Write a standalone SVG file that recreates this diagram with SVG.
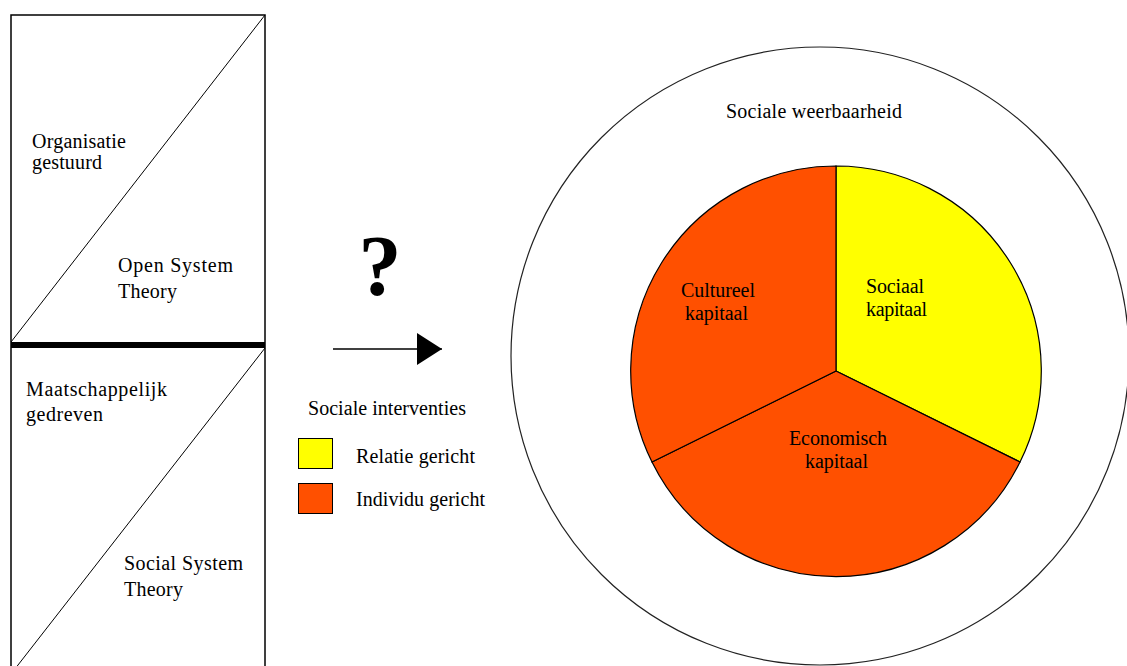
<svg xmlns="http://www.w3.org/2000/svg" width="1127" height="666" viewBox="0 0 1127 666">
<style>
.t{font-family:"Liberation Serif","Times New Roman",serif;font-size:20px;fill:#000}
.thin{stroke:#000;stroke-width:1;fill:none}
.slice{stroke:#000;stroke-width:1.2}
.y{fill:#FFFF00}
.o{fill:#FF5000}
</style>
<defs>
<marker id="ah" markerWidth="25" markerHeight="32" refX="25" refY="16" orient="auto" markerUnits="userSpaceOnUse">
<path d="M0,0 L25,16 L0,32 Z" fill="#000"/>
</marker>
</defs>
<rect width="1127" height="666" fill="#fff"/>

<g id="left-panel">
<rect x="11" y="15" width="254" height="665" fill="#fff" stroke="#000" stroke-width="1.5"/>
<line class="thin" x1="11" y1="342" x2="265" y2="15"/>
<line class="thin" x1="265" y1="348" x2="11" y2="674"/>
<line x1="11" y1="345" x2="265" y2="345" stroke="#000" stroke-width="6"/>
</g>
<g id="organisatie">
<text class="t" x="32" y="148" textLength="94" lengthAdjust="spacing">Organisatie</text>
<text class="t" x="32" y="169" textLength="70" lengthAdjust="spacing">gestuurd</text>
</g>
<g id="open-system">
<text class="t" x="118" y="272" textLength="115" lengthAdjust="spacing">Open System</text>
<text class="t" x="118" y="298" textLength="59" lengthAdjust="spacing">Theory</text>
</g>
<g id="maatschappelijk">
<text class="t" x="26" y="396" textLength="141" lengthAdjust="spacing">Maatschappelijk</text>
<text class="t" x="26" y="421" textLength="77" lengthAdjust="spacing">gedreven</text>
</g>
<g id="social-system">
<text class="t" x="124" y="570" textLength="119" lengthAdjust="spacing">Social System</text>
<text class="t" x="124" y="596" textLength="59" lengthAdjust="spacing">Theory</text>
</g>

<g id="question">
<text x="380" y="295" text-anchor="middle" style="font-family:'Liberation Serif','Times New Roman',serif;font-size:86px;font-weight:bold">?</text>
</g>

<g id="connectors">
<line x1="333" y1="349" x2="442" y2="349" stroke="#000" stroke-width="1.5" marker-end="url(#ah)"/>
</g>

<g id="legend">
<text class="t" x="308" y="415" textLength="158" lengthAdjust="spacing">Sociale interventies</text>
<rect x="298.5" y="438.5" width="34" height="30" class="y" stroke="#000" stroke-width="1"/>
<text class="t" x="356" y="463" textLength="119" lengthAdjust="spacing">Relatie gericht</text>
<rect x="298.5" y="483.5" width="34" height="30" class="o" stroke="#000" stroke-width="1"/>
<text class="t" x="356" y="506" textLength="129" lengthAdjust="spacing">Individu gericht</text>
</g>

<g id="sociale-weerbaarheid">
<circle cx="820" cy="356" r="309" fill="none" stroke="#222" stroke-width="1.2"/>
<text class="t" x="726" y="118" textLength="176" lengthAdjust="spacing">Sociale weerbaarheid</text>
</g>

<g id="sociaal-kapitaal">
<path class="slice y" d="M836,371 L836,166 A205,205 0 0 1 1020,462 Z"/>
<text class="t" x="866" y="293" textLength="58" lengthAdjust="spacing">Sociaal</text>
<text class="t" x="866" y="316" textLength="61" lengthAdjust="spacing">kapitaal</text>
</g>
<g id="economisch-kapitaal">
<path class="slice o" d="M836,371 L1020,462 A205,205 0 0 1 652,462 Z"/>
<text class="t" x="789" y="445" textLength="98" lengthAdjust="spacing">Economisch</text>
<text class="t" x="805" y="468" textLength="63" lengthAdjust="spacing">kapitaal</text>
</g>
<g id="cultureel-kapitaal">
<path class="slice o" d="M836,371 L652,462 A205,205 0 0 1 836,166 Z"/>
<text class="t" x="681" y="297" textLength="74" lengthAdjust="spacing">Cultureel</text>
<text class="t" x="685" y="320" textLength="63" lengthAdjust="spacing">kapitaal</text>
</g>
</svg>
